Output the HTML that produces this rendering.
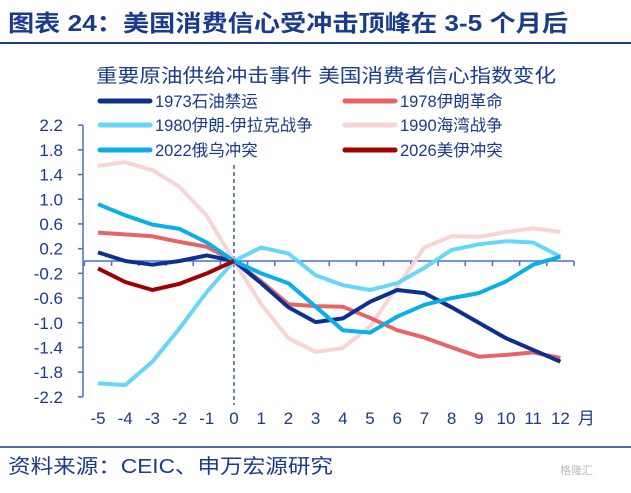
<!DOCTYPE html>
<html><head><meta charset="utf-8"><style>
body{margin:0;background:#fff;}
svg text{font-family:"Liberation Sans","Noto Sans CJK SC",sans-serif;}
</style></head><body>
<svg width="631" height="488" viewBox="0 0 631 488" xmlns="http://www.w3.org/2000/svg">
<text x="8" y="31" font-size="23" font-weight="bold" fill="#1a3a8c" textLength="560" lengthAdjust="spacingAndGlyphs">图表 24：美国消费信心受冲击顶峰在 3-5 个月后</text>
<line x1="0" y1="43" x2="631" y2="43" stroke="#1a3a8c" stroke-width="2"/>
<text x="96" y="82" font-size="19" fill="#1a3a8c" textLength="460" lengthAdjust="spacingAndGlyphs">重要原油供给冲击事件 美国消费者信心指数变化</text>
<g id="legend"></g>
<g id="axes"></g>
<g id="plot"></g>
<line x1="0" y1="447" x2="631" y2="447" stroke="#1a3a8c" stroke-width="1.5"/>
<text x="8" y="473" font-size="20" fill="#1a3a8c" textLength="325" lengthAdjust="spacingAndGlyphs">资料来源：CEIC、申万宏源研究</text>
<text x="560" y="474" font-size="11" fill="#bbb">格隆汇</text>
</svg>
<script>
const months = [-5,-4,-3,-2,-1,0,1,2,3,4,5,6,7,8,9,10,11,12];
const yTicks = [2.2,1.8,1.4,1.0,0.6,0.2,-0.2,-0.6,-1.0,-1.4,-1.8,-2.2];
const seriesNames = ["1973石油禁运","1978伊朗革命","1980伊朗-伊拉克战争","1990海湾战争","2022俄乌冲突","2026美伊冲突"];
const s1973 = [0.14,0,-0.06,0,0.09,0,-0.36,-0.75,-0.99,-0.93,-0.66,-0.47,-0.52,-0.75,-1.0,-1.25,-1.44,-1.63];
const s1978 = [0.46,0.43,0.40,0.31,0.23,0,-0.33,-0.70,-0.73,-0.74,-0.92,-1.12,-1.24,-1.40,-1.55,-1.52,-1.48,-1.57];
const s1980 = [-1.98,-2.01,-1.63,-1.09,-0.5,0,0.22,0.12,-0.23,-0.39,-0.47,-0.36,-0.11,0.18,0.27,0.32,0.30,0.07];
const s1990 = [1.54,1.6,1.47,1.2,0.73,0,-0.7,-1.25,-1.47,-1.41,-1.06,-0.42,0.22,0.40,0.39,0.47,0.53,0.47];
const s2022 = [0.92,0.74,0.59,0.52,0.30,0,-0.2,-0.36,-0.74,-1.12,-1.16,-0.9,-0.71,-0.60,-0.52,-0.33,-0.06,0.07];
const s2026 = [-0.12,-0.34,-0.47,-0.37,-0.2,0];
const allSeries = [s1973,s1978,s1980,s1990,s2022,s2026];
const colors = ["#0d2f8f","#e86464","#66d6fb","#f9d4d4","#0aaee8","#a00000"];
const NS="http://www.w3.org/2000/svg";
const x0=98, dx=27.2, yZero=261, ppu=61.75;
const X=i=>x0+dx*i;
const Y=v=>yZero-v*ppu;
function mk(tag,attrs,parent,txt){const e=document.createElementNS(NS,tag);for(const k in attrs)e.setAttribute(k,attrs[k]);if(txt!==undefined)e.textContent=txt;parent.appendChild(e);return e;}
const axes=document.getElementById('axes'), plot=document.getElementById('plot'), leg=document.getElementById('legend');
const axc="#4a6fc8";
const ya=mk('line',{x1:83,y1:Y(yTicks[0]),x2:83,y2:Y(yTicks[yTicks.length-1]),stroke:axc,'stroke-width':1.5},axes);


yTicks.forEach(t=>{
  mk('line',{x1:78,y1:Y(t),x2:83,y2:Y(t),stroke:axc,'stroke-width':1.5},axes);
  const tx=mk('text',{x:63,y:Y(t)+6,'font-size':17,fill:'#1a3a8c','text-anchor':'end'},axes,t.toFixed(1));
  
  
});
const xa=mk('line',{x1:X(-0.5),y1:yZero,x2:X(months.length-0.5),y2:yZero,stroke:axc,'stroke-width':1.5},axes);


for(let i=0;i<=months.length;i++){mk('line',{x1:X(i-0.5),y1:yZero,x2:X(i-0.5),y2:yZero+5,stroke:axc,'stroke-width':1.5},axes);}
months.forEach((m,i)=>{
  const tx=mk('text',{x:X(i),y:424,'font-size':17,fill:'#1a3a8c','text-anchor':'middle'},axes,String(m));
  
  
});
const unit=mk('text',{x:X(17)+26,y:424,'font-size':17,fill:'#1a3a8c','text-anchor':'middle'},axes,'月');


const zl=mk('line',{x1:X(5),y1:165,x2:X(5),y2:405,stroke:'#3a5aa8','stroke-width':1.5,'stroke-dasharray':'4,3'},axes);


const drawOrder=[3,2,1,0,4,5];
drawOrder.forEach(k=>{
  const d=allSeries[k].map((v,i)=>(i?'L':'M')+X(i).toFixed(1)+','+Y(v).toFixed(1)).join(' ');
  const p=mk('path',{d:d,fill:'none',stroke:colors[k],'stroke-width':4,'stroke-linejoin':'round'},plot);
  
  
});
const legPos=[[100,101],[345,101],[100,125],[345,125],[100,150],[345,150]];
seriesNames.forEach((n,k)=>{
  const [lx,ly]=legPos[k];
  const g=mk('g',{},leg);
  
  
  mk('line',{x1:lx,y1:ly,x2:lx+50,y2:ly,stroke:colors[k],'stroke-width':5,'stroke-linecap':'round'},g);
  mk('text',{x:lx+55,y:ly+6,'font-size':16.5,fill:'#1a3a8c'},g,n);
});
</script>
</body></html>
